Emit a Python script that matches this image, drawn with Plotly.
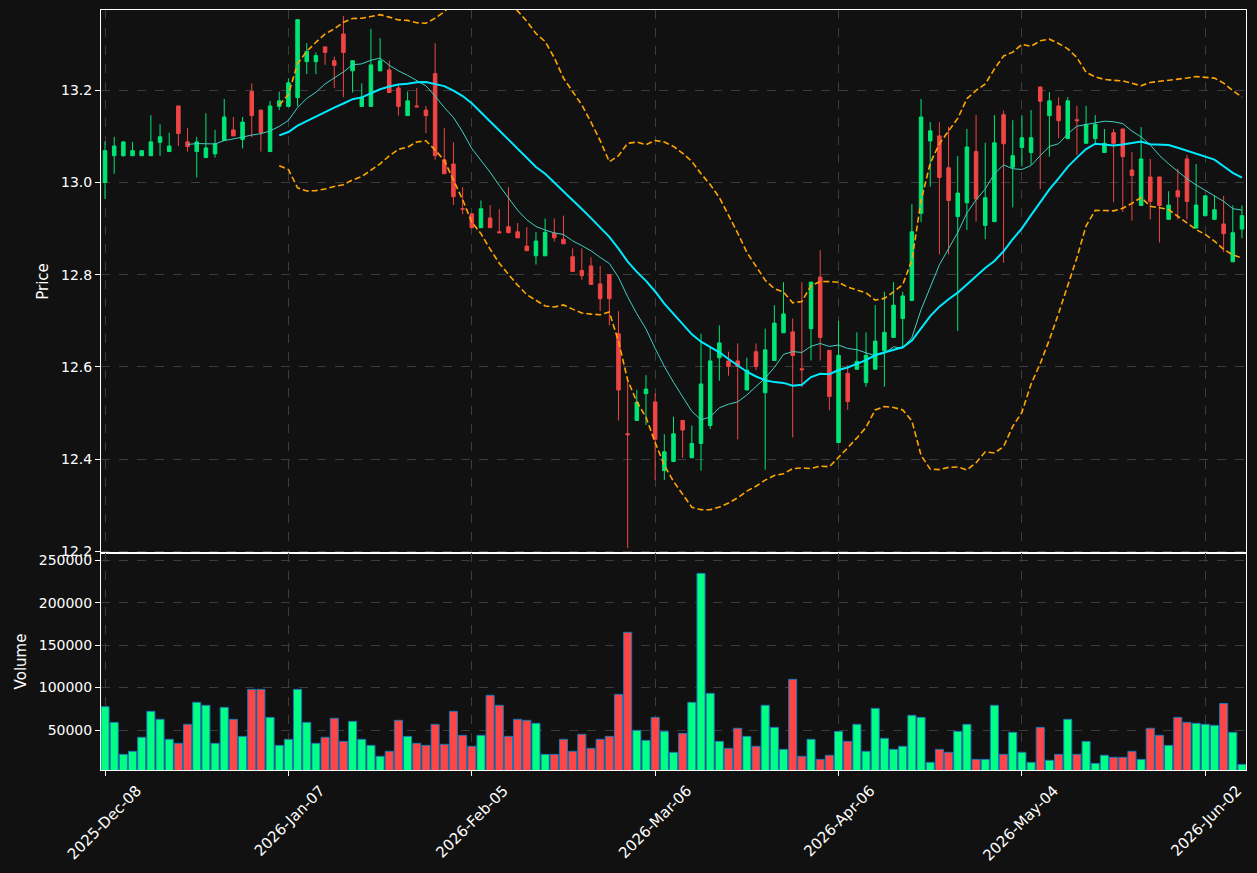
import pandas as pd
import plotly.graph_objects as go

# ---------------- data ----------------
holidays = ['2025-12-25', '2026-01-01', '2026-01-19', '2026-02-16', '2026-04-03', '2026-05-25']
dates = [d.strftime('%Y-%m-%d') for d in pd.bdate_range('2025-12-08', '2026-06-08', freq='C', holidays=holidays)]

opens = [13.000, 13.058, 13.058, 13.058, 13.058, 13.058, 13.087, 13.067, 13.166, 13.088,
         13.067, 13.054, 13.062, 13.091, 13.114, 13.093, 13.197, 13.157, 13.067, 13.165,
         13.165, 13.184, 13.262, 13.262, 13.294, 13.264, 13.322, 13.242, 13.165, 13.165,
         13.242, 13.244, 13.205, 13.145, 13.166, 13.157, 13.236, 13.049, 13.040, 12.943,
         12.932, 12.902, 12.923, 12.893, 12.904, 12.893, 12.862, 12.841, 12.841, 12.890,
         12.877, 12.839, 12.809, 12.819, 12.780, 12.800, 12.672, 12.455, 12.484, 12.542,
         12.524, 12.375, 12.395, 12.484, 12.403, 12.434, 12.473, 12.620, 12.613, 12.613,
         12.550, 12.633, 12.544, 12.614, 12.674, 12.676, 12.596, 12.683, 12.795, 12.636,
         12.436, 12.586, 12.595, 12.566, 12.595, 12.635, 12.664, 12.705, 12.744, 12.933,
         13.090, 13.101, 13.032, 12.926, 12.956, 13.067, 12.907, 12.915, 13.147, 13.033,
         13.076, 13.065, 13.207, 13.145, 13.166, 13.095, 13.136, 13.085, 13.095, 13.065,
         13.108, 13.116, 13.027, 12.950, 13.012, 13.012, 12.920, 12.982, 13.051, 12.901,
         12.928, 12.920, 12.910, 12.828, 12.899]
highs = [13.089, 13.099, 13.090, 13.088, 13.069, 13.146, 13.126, 13.108, 13.166, 13.118,
         13.099, 13.150, 13.114, 13.181, 13.142, 13.142, 13.215, 13.157, 13.177, 13.197,
         13.226, 13.353, 13.302, 13.282, 13.294, 13.273, 13.361, 13.264, 13.215, 13.333,
         13.313, 13.264, 13.212, 13.197, 13.205, 13.166, 13.302, 13.118, 13.087, 12.990,
         12.932, 12.961, 12.951, 12.942, 12.990, 12.912, 12.903, 12.892, 12.922, 12.922,
         12.928, 12.857, 12.857, 12.838, 12.819, 12.800, 12.721, 12.572, 12.550, 12.582,
         12.543, 12.454, 12.492, 12.484, 12.473, 12.672, 12.641, 12.690, 12.633, 12.651,
         12.620, 12.651, 12.683, 12.734, 12.784, 12.705, 12.784, 12.784, 12.853, 12.636,
         12.700, 12.604, 12.675, 12.675, 12.734, 12.763, 12.784, 12.763, 12.953, 13.181,
         13.131, 13.131, 13.121, 13.057, 13.116, 13.146, 13.086, 13.146, 13.156, 13.135,
         13.146, 13.157, 13.207, 13.196, 13.185, 13.185, 13.166, 13.166, 13.146, 13.116,
         13.116, 13.116, 13.066, 13.120, 13.051, 13.012, 12.981, 13.030, 13.060, 13.040,
         12.971, 12.971, 12.971, 12.950, 12.950]
lows = [12.964, 13.019, 13.056, 13.058, 13.058, 13.058, 13.058, 13.067, 13.079, 13.067,
        13.011, 13.054, 13.054, 13.091, 13.101, 13.074, 13.098, 13.067, 13.067, 13.157,
        13.165, 13.165, 13.235, 13.235, 13.255, 13.205, 13.185, 13.195, 13.165, 13.165,
        13.242, 13.195, 13.145, 13.145, 13.164, 13.107, 13.049, 13.019, 12.951, 12.931,
        12.900, 12.902, 12.902, 12.891, 12.891, 12.880, 12.852, 12.822, 12.841, 12.872,
        12.867, 12.807, 12.789, 12.779, 12.721, 12.690, 12.484, 12.207, 12.484, 12.474,
        12.355, 12.355, 12.395, 12.403, 12.403, 12.375, 12.465, 12.570, 12.581, 12.443,
        12.550, 12.593, 12.377, 12.614, 12.674, 12.447, 12.556, 12.614, 12.614, 12.506,
        12.436, 12.507, 12.595, 12.557, 12.595, 12.557, 12.664, 12.644, 12.744, 12.914,
        12.991, 12.844, 12.844, 12.678, 12.897, 12.915, 12.877, 12.915, 12.826, 12.946,
        13.035, 13.038, 12.986, 13.056, 13.096, 13.095, 13.060, 13.085, 13.085, 13.065,
        12.957, 12.936, 12.917, 12.950, 12.920, 12.870, 12.920, 12.920, 12.920, 12.901,
        12.928, 12.920, 12.849, 12.828, 12.879]
closes = [13.069, 13.079, 13.088, 13.069, 13.069, 13.088, 13.099, 13.079, 13.106, 13.078,
          13.088, 13.075, 13.084, 13.142, 13.101, 13.131, 13.145, 13.108, 13.166, 13.177,
          13.216, 13.353, 13.284, 13.275, 13.282, 13.254, 13.282, 13.264, 13.185, 13.255,
          13.264, 13.195, 13.165, 13.177, 13.164, 13.145, 13.058, 13.019, 12.969, 12.942,
          12.902, 12.943, 12.902, 12.891, 12.891, 12.880, 12.852, 12.873, 12.892, 12.880,
          12.867, 12.807, 12.798, 12.779, 12.748, 12.748, 12.550, 12.453, 12.523, 12.552,
          12.443, 12.416, 12.455, 12.463, 12.434, 12.563, 12.613, 12.652, 12.601, 12.601,
          12.593, 12.601, 12.637, 12.695, 12.715, 12.625, 12.594, 12.784, 12.664, 12.536,
          12.625, 12.525, 12.612, 12.625, 12.656, 12.675, 12.734, 12.754, 12.893, 13.142,
          13.112, 13.011, 12.961, 12.977, 13.077, 12.964, 12.967, 13.086, 13.084, 13.058,
          13.097, 13.097, 13.176, 13.177, 13.134, 13.177, 13.134, 13.126, 13.126, 13.085,
          13.085, 13.056, 13.015, 13.051, 12.959, 12.950, 12.951, 12.969, 12.959, 12.951,
          12.971, 12.941, 12.889, 12.891, 12.928]
volumes = [77500, 59000, 21300, 24900, 41400, 72000, 62600, 39000, 34300, 56700,
           82600, 79100, 34300, 76700, 62600, 42500, 97900, 97900, 64900, 31900,
           39000, 97900, 59000, 34300, 41400, 63800, 36600, 60200, 39000, 31900,
           19000, 24900, 61400, 42500, 34300, 31900, 56700, 33100, 72000, 43700,
           30800, 43700, 90900, 79100, 42500, 62600, 61400, 57900, 21300, 21300,
           39000, 24900, 44900, 28400, 39000, 42500, 92000, 165100, 49600, 37800,
           64900, 48400, 23700, 46100, 82600, 234600, 93200, 36600, 28400, 52000,
           42500, 30800, 79100, 53100, 27200, 109700, 19000, 39000, 15400, 20200,
           48400, 36600, 56700, 24900, 75500, 40200, 27200, 30800, 67300, 64900,
           11900, 27200, 23700, 48400, 56700, 15400, 15400, 79100, 21300, 47300,
           23700, 11900, 53100, 14300, 21300, 62600, 21300, 36600, 10700, 20200,
           17800, 17800, 24900, 15400, 52000, 43700, 31900, 64900, 59000, 57900,
           56700, 55500, 81300, 47300, 9500]

tick_dates = ['2025-12-08', '2026-01-07', '2026-02-05', '2026-03-06', '2026-04-06', '2026-05-04', '2026-06-02']
tick_text = ['2025-Dec-08', '2026-Jan-07', '2026-Feb-05', '2026-Mar-06', '2026-Apr-06', '2026-May-04', '2026-Jun-02']
price_ticks = [12.2, 12.4, 12.6, 12.8, 13.0, 13.2]
volume_ticks = [50000, 100000, 150000, 200000, 250000]

# ---------------- derived ----------------
cs = pd.Series(closes)
ma10 = cs.rolling(10).mean()
ma20 = cs.rolling(20).mean()
sd20 = cs.rolling(20).std()
bb_up = ma20 + 2 * sd20
bb_dn = ma20 - 2 * sd20

UP, DOWN = '#00e676', '#f04545'
VUP, VDOWN = '#00ff85', '#ff4545'
vol_colors = [VUP if c >= o else VDOWN for o, c in zip(opens, closes)]

BG = '#111111'
GRID = '#3c3c3c'
FONT = 'DejaVu Sans'

fig = go.Figure()
fig.add_trace(go.Candlestick(
    x=dates, open=opens, high=highs, low=lows, close=closes,
    increasing=dict(line=dict(color=UP, width=1), fillcolor=UP),
    decreasing=dict(line=dict(color=DOWN, width=1), fillcolor=DOWN),
    whiskerwidth=0, xaxis='x', yaxis='y', hoverinfo='skip'))
fig.add_trace(go.Scatter(x=dates, y=bb_up, mode='lines', line=dict(color='#ffa500', width=1.6, dash='6px,3px'),
                         xaxis='x', yaxis='y'))
fig.add_trace(go.Scatter(x=dates, y=bb_dn, mode='lines', line=dict(color='#ffa500', width=1.6, dash='6px,3px'),
                         xaxis='x', yaxis='y'))
fig.add_trace(go.Scatter(x=dates, y=ma10, mode='lines', line=dict(color='#40d0c0', width=1),
                         xaxis='x', yaxis='y'))
fig.add_trace(go.Scatter(x=dates, y=ma20, mode='lines', line=dict(color='#00eaff', width=2),
                         xaxis='x', yaxis='y'))
fig.add_trace(go.Bar(x=dates, y=volumes, marker=dict(color=vol_colors, line=dict(color='#1f77b4', width=1)),
                     width=0.88, xaxis='x2', yaxis='y2', hoverinfo='skip'))

split = 217 / 760
axis_common = dict(showline=True, mirror=True, linecolor='white', linewidth=1,
                   showgrid=True, gridcolor=GRID, griddash='dash', gridwidth=1,
                   zeroline=False, automargin=False)

fig.update_layout(
    width=1257, height=873,
    margin=dict(l=101, r=11, t=10, b=103, autoexpand=False),
    paper_bgcolor=BG, plot_bgcolor=BG,
    showlegend=False,
    font=dict(family=FONT, size=14, color='white'),
    boxgap=0.45,
    xaxis=dict(domain=[0, 1], anchor='y', type='category', range=[-0.44, 124.44],
               tickvals=tick_dates, showticklabels=False, ticks='',
               rangeslider=dict(visible=False), **axis_common),
    xaxis2=dict(domain=[0, 1], anchor='y2', type='category', matches='x', range=[-0.44, 124.44],
                tickvals=tick_dates, ticktext=tick_text, tickangle=-45,
                ticklabelshift=32, ticklabelstandoff=0,
                tickfont=dict(family=FONT, size=15, color='white'),
                ticks='outside', ticklen=5, tickcolor='white', **axis_common),
    yaxis=dict(domain=[split, 1], anchor='x', range=[12.1965, 13.374],
               tickvals=price_ticks, ticktext=[f'{v:.1f}' for v in price_ticks],
               tickfont=dict(family=FONT, size=14, color='white'),
               ticks='outside', ticklen=5, tickcolor='white',
               title=dict(text='Price', standoff=8, font=dict(family=FONT, size=15, color='white')),
               **axis_common),
    yaxis2=dict(domain=[0, split], anchor='x2', range=[2870, 258600],
                tickvals=volume_ticks, ticktext=[str(v) for v in volume_ticks],
                tickfont=dict(family=FONT, size=14, color='white'),
                ticks='outside', ticklen=5, tickcolor='white',
                title=dict(text='Volume', standoff=8, font=dict(family=FONT, size=15, color='white')),
                **axis_common),
)

fig.write_html('out.html')
